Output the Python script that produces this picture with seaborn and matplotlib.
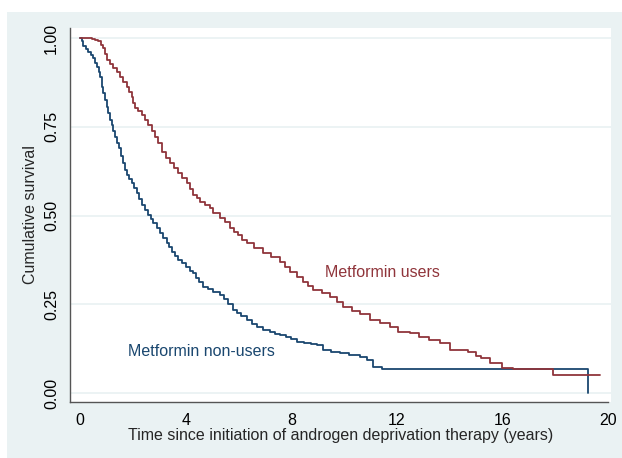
import matplotlib
matplotlib.use("Agg")
import matplotlib.pyplot as plt
import seaborn as sns
import pandas as pd
from matplotlib.patches import Rectangle

# Kaplan-Meier step points
nonuser_time = [0, 0.06, 0.13, 0.22, 0.31, 0.40, 0.50, 0.57, 0.63, 0.70, 0.76, 0.82, 0.88,
                0.95, 1.01, 1.07, 1.13, 1.20, 1.26, 1.33, 1.41, 1.49, 1.56, 1.63, 1.70,
                1.78, 1.87, 1.96, 2.05, 2.15, 2.25, 2.34, 2.46, 2.59, 2.68, 2.78, 2.90,
                3.03, 3.15, 3.28, 3.37, 3.47, 3.60, 3.72, 3.85, 4.00, 4.15, 4.29, 4.40,
                4.52, 4.67, 4.85, 5.05, 5.30, 5.45, 5.60, 5.81, 5.95, 6.10, 6.31, 6.50,
                6.70, 6.94, 7.20, 7.40, 7.58, 7.80, 8.00, 8.21, 8.50, 8.75, 8.97, 9.22,
                9.50, 9.85, 10.20, 10.61, 10.86, 11.11, 11.43, 19.25]
nonuser_surv = [1.0, 0.99, 0.977, 0.97, 0.961, 0.952, 0.943, 0.93, 0.919, 0.905, 0.891,
                0.863, 0.845, 0.825, 0.805, 0.788, 0.77, 0.755, 0.738, 0.722, 0.705, 0.689,
                0.668, 0.648, 0.628, 0.615, 0.602, 0.591, 0.577, 0.563, 0.546, 0.530,
                0.515, 0.501, 0.49, 0.478, 0.464, 0.450, 0.436, 0.422, 0.41, 0.398, 0.386,
                0.375, 0.365, 0.355, 0.345, 0.337, 0.325, 0.312, 0.299, 0.292, 0.286,
                0.276, 0.265, 0.252, 0.234, 0.226, 0.218, 0.206, 0.196, 0.187, 0.177,
                0.171, 0.167, 0.163, 0.157, 0.151, 0.145, 0.141, 0.138, 0.135, 0.121,
                0.117, 0.112, 0.108, 0.102, 0.093, 0.074, 0.067, 0.0]

user_time = [0, 0.44, 0.55, 0.69, 0.78, 0.88, 0.95, 1.01, 1.13, 1.26, 1.39, 1.52, 1.64,
             1.77, 1.87, 1.96, 2.02, 2.08, 2.20, 2.34, 2.47, 2.59, 2.72, 2.84, 2.97, 3.09,
             3.25, 3.41, 3.56, 3.72, 3.88, 4.04, 4.16, 4.29, 4.42, 4.55, 4.75, 4.92, 5.05,
             5.30, 5.50, 5.68, 5.85, 6.00, 6.15, 6.31, 6.60, 6.94, 7.25, 7.58, 7.78, 7.95,
             8.20, 8.46, 8.65, 8.84, 9.15, 9.47, 9.72, 9.97, 10.30, 10.61, 10.98, 11.36,
             11.74, 12.06, 12.50, 12.85, 13.20, 13.64, 14.02, 14.71, 15.00, 15.20, 15.53,
             15.97, 16.41, 17.92, 19.70]
user_surv = [1.0, 0.996, 0.993, 0.99, 0.98, 0.971, 0.955, 0.938, 0.926, 0.915, 0.903,
             0.891, 0.877, 0.863, 0.849, 0.835, 0.818, 0.802, 0.793, 0.783, 0.769, 0.755,
             0.738, 0.722, 0.703, 0.68, 0.663, 0.647, 0.633, 0.619, 0.605, 0.591, 0.575,
             0.558, 0.548, 0.539, 0.53, 0.52, 0.506, 0.494, 0.482, 0.465, 0.455, 0.445,
             0.432, 0.422, 0.408, 0.394, 0.383, 0.370, 0.356, 0.342, 0.328, 0.314, 0.302,
             0.290, 0.281, 0.271, 0.257, 0.243, 0.232, 0.222, 0.206, 0.198, 0.187, 0.173,
             0.168, 0.158, 0.149, 0.140, 0.121, 0.116, 0.105, 0.098, 0.084, 0.072, 0.067,
             0.051, 0.051]

groups = ["Metformin non-users", "Metformin users"]
x_ticks = [0, 4, 8, 12, 16, 20]
y_ticks = [0.0, 0.25, 0.5, 0.75, 1.0]
y_tick_labels = ["0.00", "0.25", "0.50", "0.75", "1.00"]

BLUE = "#1a476f"
RED = "#90353b"
BG = "#eaf2f3"

df = pd.concat([
    pd.DataFrame({"time": nonuser_time, "surv": nonuser_surv, "group": groups[0]}),
    pd.DataFrame({"time": user_time, "surv": user_surv, "group": groups[1]}),
], ignore_index=True)

sns.set_style("white")
plt.rcParams["font.family"] = ["Liberation Sans", "DejaVu Sans"]

fig = plt.figure(figsize=(6.22, 4.58), dpi=100, facecolor=BG)
# white strips at top and left edges of the image
fig.patches.append(Rectangle((0, 1 - 12 / 458), 1, 12 / 458, transform=fig.transFigure,
                             facecolor="white", edgecolor="none", zorder=-10))
fig.patches.append(Rectangle((0, 0), 7 / 622, 1, transform=fig.transFigure,
                             facecolor="white", edgecolor="none", zorder=-10))

ax = fig.add_axes([70 / 622, 1 - 402 / 458, (611 - 70) / 622, (402 - 28) / 458])
ax.set_facecolor("white")

sns.lineplot(data=df, x="time", y="surv", hue="group", palette={groups[0]: BLUE, groups[1]: RED},
             estimator=None, sort=True, drawstyle="steps-post", linewidth=1.3, legend=False, ax=ax)

ax.set_xlim(-0.38, 20.11)
ax.set_ylim(-0.025, 1.028)
ax.set_xticks(x_ticks)
ax.set_yticks(y_ticks)
ax.set_yticklabels(y_tick_labels, rotation=90, va="center")
for y in y_ticks:
    ax.axhline(y, color=BG, linewidth=1.3, zorder=0)

for s in ["top", "right"]:
    ax.spines[s].set_visible(False)
for s in ["left", "bottom"]:
    ax.spines[s].set_color("#555555")
    ax.spines[s].set_linewidth(1.0)
ax.spines["bottom"].set_bounds(-0.38, 20)
ax.tick_params(axis="both", direction="out", length=5, width=1, color="#555555",
               labelsize=11.5, labelcolor="black", pad=3)

ax.set_xlabel("Time since initiation of androgen deprivation therapy (years)", fontsize=11.5, labelpad=0)
ax.set_ylabel("Cumulative survival", fontsize=11.5, labelpad=4)

ax.text(9.26, 0.339, "Metformin users", color=RED, fontsize=11.5, va="center", ha="left")
ax.text(1.83, 0.116, "Metformin non-users", color=BLUE, fontsize=11.5, va="center", ha="left")

fig.savefig("out.png", dpi=100, facecolor=fig.get_facecolor())
